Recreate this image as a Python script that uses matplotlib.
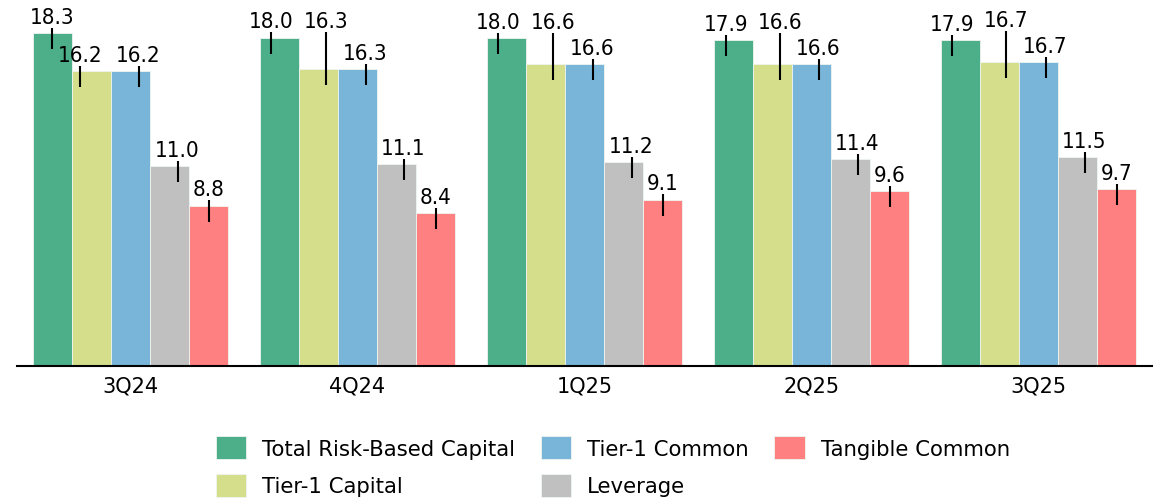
import numpy as np
import matplotlib.pyplot as plt

plt.rcParams['font.family'] = ['DejaVu Sans']

quarters = ['3Q24', '4Q24', '1Q25', '2Q25', '3Q25']
series = ['Total Risk-Based Capital', 'Tier-1 Capital', 'Tier-1 Common', 'Leverage', 'Tangible Common']
total_rbc = [18.3, 18.0, 18.0, 17.9, 17.9]
tier1_cap = [16.2, 16.3, 16.6, 16.6, 16.7]
tier1_common = [16.2, 16.3, 16.6, 16.6, 16.7]
leverage = [11.0, 11.1, 11.2, 11.4, 11.5]
tangible = [8.8, 8.4, 9.1, 9.6, 9.7]
colors = ['#4caf8a', '#d4de8b', '#78b5d8', '#c0c0c0', '#ff8080']

values = [total_rbc, tier1_cap, tier1_common, leverage, tangible]

# label nudges in pixels (per series, per quarter) so labels don't collide
nudge_x = [[0, -8, -8, -7, -8],
           [-11, 8, 8, 8, 7],
           [8, 8, 8, 7, 7],
           [8, 7, 8, 7, 7],
           [0, 0, 0, 0, 0]]
nudge_y = [[0, 1, 0, 0, 0],
           [0, 32, 26, 26, 26],
           [0, 0, 0, 0, 0],
           [0, 0, 0, 0, 0],
           [1, 0, 1, 0, 0]]

fig = plt.figure(figsize=(11.63, 5.02), dpi=100)
ax = fig.add_axes([17 / 1163, 1 - 367 / 502, 1135 / 1163, 367 / 502])

px_y = 18.2    # pixels per unit on y
px_x = 227.0   # pixels per unit on x
x = np.arange(len(quarters))
w = 0.172
handles = []
for i, (vals, c, name) in enumerate(zip(values, colors, series)):
    pos = x + (i - 2) * w
    b = ax.bar(pos, vals, width=w, color=c, edgecolor='#eef5f0', linewidth=0.6, label=name)
    handles.append(b)
    for j, (px, v) in enumerate(zip(pos, vals)):
        lx = px + nudge_x[i][j] / px_x
        top = v + (5 + nudge_y[i][j]) / px_y
        # leader line from label down into the bar
        ax.plot([lx, lx], [top, v - 16 / px_y], color='black', lw=1.5, solid_capstyle='butt')
        ax.text(lx, top + 5 / px_y, f'{v:.1f}', ha='center', va='baseline',
                fontsize=16, fontstretch='condensed')

ax.set_xlim(-0.5, 4.5)
ax.set_ylim(0, 367 / px_y)
ax.set_xticks(x)
ax.set_xticklabels(quarters, fontsize=15)
ax.tick_params(axis='x', length=0, pad=7)
ax.set_yticks([])
for s in ['top', 'right', 'left']:
    ax.spines[s].set_visible(False)
ax.spines['bottom'].set_linewidth(1.5)

fig.legend(handles=handles, labels=series, ncol=3, loc='center',
           bbox_to_anchor=(0.527, 0.069), frameon=False, fontsize=15.3,
           handlelength=1.44, handleheight=1.3, handletextpad=0.75,
           columnspacing=1.2, labelspacing=0.68)

fig.savefig('out.png', dpi=100)
